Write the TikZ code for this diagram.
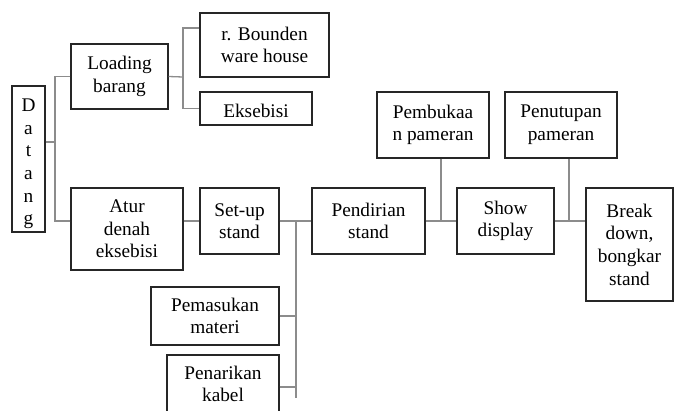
\documentclass[tikz,border=0pt]{standalone}
\usepackage{fontspec}
\setmainfont{Liberation Serif}
\begin{document}
\begin{tikzpicture}[x=1pt,y=-1pt,
  box/.style={draw=black!85, line width=1.4pt, fill=white, inner sep=0pt,
    align=center, text=black,
    font=\fontsize{19.3}{22.6}\selectfont},
  conn/.style={draw=black!45, line width=1.3pt},
  lbl/.style={inner sep=0pt, align=center, text=black,
    font=\fontsize{19.3}{22.6}\selectfont}]
\useasboundingbox (0,0) rectangle (674,410);
\clip (0,0) rectangle (674,410);

% boxes
\node[box, minimum width=33pt, minimum height=146pt] (datang) at (28.5,159) {};
\node[lbl] (datangtxt) at (28.5,164) {D\\a\\t\\a\\n\\g};
\node[box, minimum width=97pt, minimum height=65pt] (loading) at (119.5,76.5) {Loading\\barang};
\node[box, minimum width=129pt, minimum height=64pt] (bounden) at (264.5,45) {r. Bounden\\ware house};
\node[box, minimum width=112pt, minimum height=33pt, text height=18pt, text depth=0pt] (eksebisi) at (256,108.5) {Eksebisi};
\node[box, minimum width=112pt, minimum height=82pt] (atur) at (127,229) {Atur\\denah\\eksebisi};
\node[box, minimum width=79pt, minimum height=66pt] (setup) at (239.5,221) {Set-up\\stand};
\node[box, minimum width=128pt, minimum height=58pt] (pemasukan) at (215,316) {Pemasukan\\materi};
\node[box, minimum width=112pt, minimum height=58pt] (penarikan) at (223,384) {Penarikan\\kabel};
\node[box, minimum width=113pt, minimum height=66pt] (pendirian) at (368.5,221) {Pendirian\\stand};
\node[box, minimum width=112pt, minimum height=66pt] (pembukaan) at (433,125) {Pembukaa\\n pameran};
\node[box, minimum width=97pt, minimum height=66pt] (show) at (505.5,221) {Show\\display};
\node[box, minimum width=112pt, minimum height=66pt] (penutupan) at (561,125) {Penutupan\\pameran};
\node[box, minimum width=87pt, minimum height=113pt] (breakdown) at (629.5,244.5) {Break\\down,\\bongkar\\stand};

% junction points of the connectors
\coordinate (j1) at (55,142);
\coordinate (j2) at (183,77);
\coordinate (ybounden) at (0,28);
\coordinate (j3) at (296,221);
\coordinate (jend) at (296,398);
\coordinate (ykabel) at (0,387);
\coordinate (j4) at (441,221);
\coordinate (j5) at (569,221);

% Datang branches
\draw[conn] (datang.east |- j1) -- (j1);
\draw[conn] (loading.west) -| (j1);
\draw[conn] (atur.west |- setup.west) -| (j1);

% Loading barang branches
\draw[conn] (loading.east) -- (j2);
\draw[conn] (bounden.west |- ybounden) -| (j2) |- (eksebisi.west);

% main line
\draw[conn] (atur.east |- setup.west) -- (setup.west);
\draw[conn] (setup.east) -- (pendirian.west);
\draw[conn] (j3) -- (jend);
\draw[conn] (pemasukan.east) -- (pemasukan.east -| j3);
\draw[conn] (penarikan.east |- ykabel) -- (j3 |- ykabel);
\draw[conn] (pendirian.east) -- (show.west);
\draw[conn] (pembukaan.south -| j4) -- (j4);
\draw[conn] (show.east) -- (breakdown.west |- show.east);
\draw[conn] (penutupan.south -| j5) -- (j5);
\end{tikzpicture}
\end{document}
